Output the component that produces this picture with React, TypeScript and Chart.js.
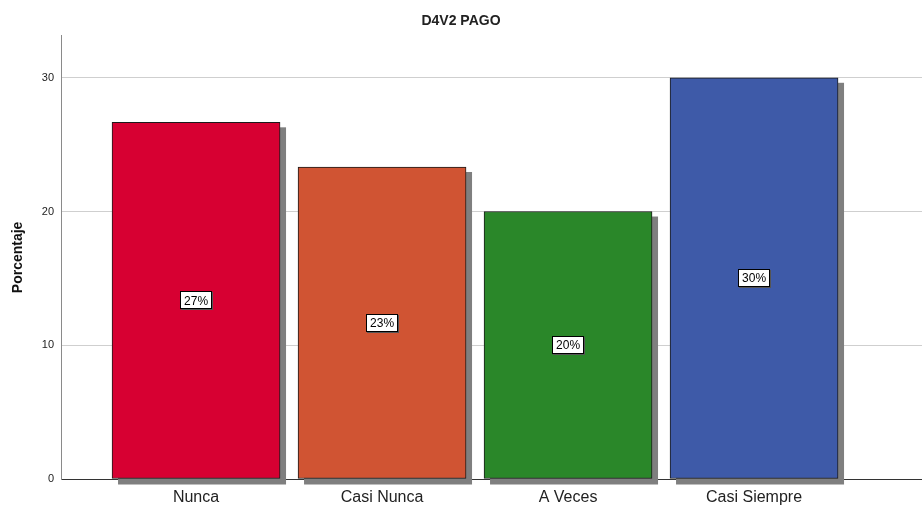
import React, { useEffect, useRef } from "react";
import { Chart, registerables } from "chart.js";

Chart.register(...registerables);

const categories = ["Nunca", "Casi Nunca", "A Veces", "Casi Siempre"];
const percentValues = [26.67, 23.33, 20.0, 30.0];
const barColors = ["#D70032", "#D05433", "#2A8729", "#3E5AA8"];
const yTicks = [0, 10, 20, 30];

const FONT = "'Liberation Sans', Arial, Helvetica, sans-serif";

const shadowPlugin = {
  id: "barShadow",
  beforeDatasetsDraw(chart: any) {
    const ctx = chart.ctx;
    const meta = chart.getDatasetMeta(0);
    ctx.save();
    ctx.fillStyle = "#7f7f7f";
    meta.data.forEach((bar: any) => {
      const p = bar.getProps(["x", "y", "base", "width"], true);
      const left = p.x - p.width / 2;
      ctx.fillRect(left + 6, p.y + 5, p.width, p.base - p.y + 1);
    });
    ctx.restore();
  },
};

const labelPlugin = {
  id: "barLabels",
  afterDatasetsDraw(chart: any) {
    const ctx = chart.ctx;
    const meta = chart.getDatasetMeta(0);
    ctx.save();
    ctx.font = `12px ${FONT}`;
    ctx.textAlign = "center";
    ctx.textBaseline = "middle";
    meta.data.forEach((bar: any, i: number) => {
      const p = bar.getProps(["x", "y", "base"], true);
      const cy = (p.y + p.base) / 2;
      const text = Math.round(percentValues[i]) + "%";
      const w = ctx.measureText(text).width + 8;
      const h = 18;
      ctx.fillStyle = "#555";
      ctx.fillRect(Math.round(p.x - w / 2) + 1, Math.round(cy - h / 2) + 1, Math.round(w), h);
      ctx.fillStyle = "#ffffff";
      ctx.fillRect(Math.round(p.x - w / 2), Math.round(cy - h / 2), Math.round(w), h);
      ctx.strokeStyle = "#000";
      ctx.lineWidth = 1;
      ctx.strokeRect(Math.round(p.x - w / 2) + 0.5, Math.round(cy - h / 2) + 0.5, Math.round(w) - 1, h - 1);
      ctx.fillStyle = "#000";
      ctx.fillText(text, p.x, cy + 1);
    });
    ctx.restore();
  },
};

export default function App() {
  const ref = useRef<HTMLCanvasElement | null>(null);

  useEffect(() => {
    if (!ref.current) return;
    const chart = new Chart(ref.current, {
      type: "bar",
      data: {
        datasets: [
          {
            data: percentValues.map((v, i) => ({ x: i, y: v })),
            backgroundColor: barColors,
            borderColor: "#1a1a1a",
            borderWidth: 1,
            borderSkipped: false,
            barThickness: 168,
          },
        ],
      },
      options: {
        responsive: false,
        animation: false,
        layout: { padding: { left: 0, right: 0, top: 0, bottom: 0 } },
        plugins: {
          legend: { display: false },
          tooltip: { enabled: false },
          title: {
            display: true,
            text: "D4V2 PAGO",
            color: "#222",
            font: { family: FONT, size: 14, weight: "bold" },
            padding: { top: 13, bottom: 6 },
          },
        },
        scales: {
          x: {
            type: "linear",
            min: -0.726,
            max: 3.903,
            offset: false,
            grid: { display: false, drawTicks: false },
            border: { display: true, color: "#333333", width: 1 },
            afterBuildTicks(scale: any) {
              scale.ticks = categories.map((_, i) => ({ value: i }));
            },
            afterFit(scale: any) {
              scale.height = 27;
            },
            ticks: {
              autoSkip: false,
              maxRotation: 0,
              padding: 9,
              color: "#222",
              font: { family: FONT, size: 16 },
              callback: (v: any) => categories[v] ?? "",
            },
          },
          y: {
            min: 0,
            max: 33.14,
            afterBuildTicks(scale: any) {
              scale.ticks = yTicks.map((v) => ({ value: v }));
            },
            afterFit(scale: any) {
              scale.width = 61;
            },
            grid: { color: "#cfcfcf", drawTicks: false, lineWidth: 1 },
            border: { display: true, color: "#8a8a8a", width: 1 },
            ticks: {
              padding: 7,
              color: "#222",
              font: { family: FONT, size: 11 },
            },
            title: {
              display: true,
              text: "Porcentaje",
              color: "#111",
              font: { family: FONT, size: 14, weight: "bold" },
              padding: { top: 10, bottom: 0 },
            },
          },
        },
      },
      plugins: [shadowPlugin, labelPlugin],
    } as any);
    return () => chart.destroy();
  }, []);

  return (
    <div style={{ position: "fixed", left: 0, top: 0, width: 922, height: 506, background: "#fff" }}>
      <canvas ref={ref} width={922} height={506} style={{ display: "block" }} />
    </div>
  );
}
